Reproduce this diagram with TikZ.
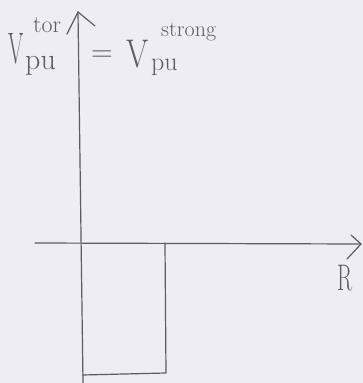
\documentclass[tikz,border=0pt]{standalone}
\definecolor{paper}{RGB}{237,237,243}
\definecolor{pencil}{RGB}{92,92,98}
\begin{document}
\begin{tikzpicture}[x=1pt,y=-1pt,
  pen/.style={draw=pencil,line width=1.2pt,line cap=round,line join=round},
  lbl/.style={text=pencil,inner sep=0pt,anchor=base west}]
\fill[paper] (0,0) rectangle (363,383);
\useasboundingbox (0,0) rectangle (363,383);
% axes
\coordinate (ytop) at (78,12);
\coordinate (ybot) at (83,383);
\coordinate (xl) at (35,243);
\coordinate (xr) at (361,244);
\coordinate (wr) at (165,243);
\coordinate (wbr) at (166,373);
\coordinate (wbl) at (82.5,375);
\draw[pen] (ybot) -- (ytop);
\draw[pen] (ytop) -- (67,34);
\draw[pen] (ytop) -- (95,26);
\draw[pen] (xl) -- (xr);
\draw[pen] (xr) -- (351,235);
\draw[pen] (xr) -- (347,259);
% well
\draw[pen] (wr) -- (wbr) -- (wbl);
% labels
\node[lbl,font=\fontsize{44}{46}\selectfont] (vl) at (8,63) {\scalebox{0.5}[1]{V}};
\node[lbl,font=\fontsize{24}{26}\selectfont] (tor) at (33,32) {tor};
\node[lbl,font=\fontsize{30}{32}\selectfont] (pul) at (25,69) {pu};
\node[lbl,font=\fontsize{30}{32}\selectfont] (eq) at (91,61) {=};
\node[lbl,font=\fontsize{40}{42}\selectfont] (vr) at (126,67) {\scalebox{0.8}[1]{V}};
\node[lbl,font=\fontsize{26}{28}\selectfont] (pur) at (151,70) {pu};
\node[lbl,font=\fontsize{22}{24}\selectfont] (strong) at (161,36) {strong};
\node[lbl,font=\fontsize{37}{39}\selectfont] (R) at (337,290) {\scalebox{0.6}[1]{R}};
\end{tikzpicture}
\end{document}
